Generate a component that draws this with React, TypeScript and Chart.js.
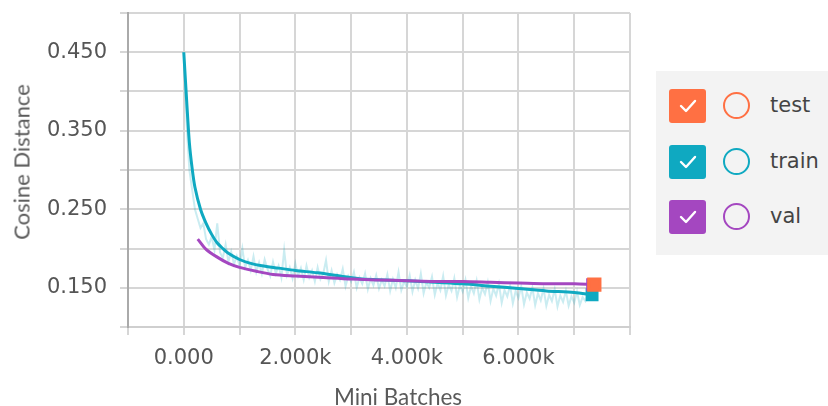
import { useEffect, useRef } from "react";
import { Chart, registerables } from "chart.js";

Chart.register(...registerables);

// ---- data ----
const trainRaw = [
  0.45, 0.36, 0.3, 0.275, 0.25, 0.238, 0.226, 0.232, 0.212, 0.205, 0.215, 0.198, 0.232, 0.195, 0.188, 0.205,
  0.183, 0.196, 0.18, 0.19, 0.178, 0.2, 0.176, 0.185, 0.172, 0.19, 0.17, 0.182, 0.168, 0.186, 0.174, 0.165,
  0.183, 0.168, 0.178, 0.163, 0.198, 0.166, 0.176, 0.162, 0.181, 0.165, 0.175, 0.16, 0.178, 0.163, 0.172, 0.158,
  0.176, 0.161, 0.168, 0.185, 0.158, 0.172, 0.156, 0.167, 0.16, 0.174, 0.152, 0.165, 0.158, 0.17, 0.15, 0.163,
  0.155, 0.168, 0.148, 0.162, 0.153, 0.166, 0.149, 0.16, 0.152, 0.167, 0.146, 0.161, 0.15, 0.17, 0.147, 0.158,
  0.151, 0.166, 0.145, 0.16, 0.149, 0.168, 0.143, 0.157, 0.15, 0.164, 0.141, 0.156, 0.147, 0.165, 0.14, 0.154,
  0.146, 0.162, 0.138, 0.153, 0.145, 0.16, 0.137, 0.152, 0.143, 0.159, 0.135, 0.15, 0.142, 0.157, 0.133, 0.149,
  0.14, 0.155, 0.131, 0.147, 0.139, 0.153, 0.13, 0.146, 0.137, 0.152, 0.129, 0.144, 0.136, 0.15, 0.128, 0.143,
  0.134, 0.149, 0.127, 0.141, 0.133, 0.148, 0.126, 0.14, 0.132, 0.146, 0.127, 0.139, 0.131, 0.145, 0.128, 0.138,
  0.133, 0.142, 0.136,
];
const trainRawInterval = 50;
const trainRawSteps = trainRaw.map((_, i) => i * trainRawInterval);

const trainSmoothSteps = [
  0, 50, 100, 150, 200, 300, 400, 500, 600, 700, 800, 1000, 1200, 1400, 1700, 2000, 2400, 2800, 3200, 3600,
  4000, 4500, 5000, 5500, 6000, 6500, 7000, 7320,
];
const trainSmooth = [
  0.45, 0.39, 0.335, 0.302, 0.278, 0.25, 0.232, 0.218, 0.207, 0.2, 0.194, 0.186, 0.181, 0.178, 0.175, 0.172,
  0.169, 0.165, 0.161, 0.16, 0.159, 0.157, 0.155, 0.152, 0.149, 0.146, 0.144, 0.141,
];
const valSteps = [
  250, 400, 600, 800, 1000, 1300, 1600, 2000, 2500, 3000, 3500, 4000, 4500, 5000, 5500, 6000, 6500, 7000, 7330,
];
const valValues = [
  0.212, 0.199, 0.189, 0.181, 0.176, 0.171, 0.167, 0.165, 0.163, 0.161, 0.16, 0.159, 0.158, 0.158, 0.157, 0.156,
  0.155, 0.155, 0.154,
];
const testSteps = [7360];
const testValues = [0.154];

const yLabelledTicks = [0.15, 0.25, 0.35, 0.45];
const xLabelledTicks = [0, 2000, 4000, 6000];
const xTickLabels = ["0.000", "2.000k", "4.000k", "6.000k"];

const seriesNames = ["test", "train", "val"];
const seriesColors = ["#FF7043", "#0FA9C1", "#A447C0"];

const pts = (xs: number[], ys: number[]) => xs.map((x, i) => ({ x, y: ys[i] }));
const lastOnly = (n: number, r: number) => (ctx: any) => (ctx.dataIndex === n - 1 ? r : 0);

function Check() {
  return (
    <svg width="20" height="16" viewBox="0 0 20 16">
      <polyline points="3,8 8,13 17,3" fill="none" stroke="#fff" strokeWidth="2.4" strokeLinecap="round" strokeLinejoin="round" />
    </svg>
  );
}

export default function App() {
  const ref = useRef<HTMLCanvasElement | null>(null);

  useEffect(() => {
    if (!ref.current) return;
    const chart = new Chart(ref.current, {
      type: "line",
      data: {
        datasets: [
          {
            label: "test",
            data: pts(testSteps, testValues),
            borderColor: seriesColors[0],
            backgroundColor: seriesColors[0],
            borderWidth: 3,
            pointStyle: "rect",
            pointRadius: 8,
          },
          {
            label: "val",
            data: pts(valSteps, valValues),
            borderColor: seriesColors[2],
            backgroundColor: seriesColors[2],
            borderWidth: 3,
            pointStyle: "rect",
            pointRadius: lastOnly(valSteps.length, 7),
            tension: 0.3,
          },
          {
            label: "train",
            data: pts(trainSmoothSteps, trainSmooth),
            borderColor: seriesColors[1],
            backgroundColor: seriesColors[1],
            borderWidth: 3,
            pointStyle: "rect",
            pointRadius: lastOnly(trainSmoothSteps.length, 7),
            tension: 0.3,
          },
          {
            label: "train-raw",
            data: pts(trainRawSteps, trainRaw),
            borderColor: "rgba(15,169,193,0.22)",
            borderWidth: 2,
            pointRadius: 0,
            tension: 0,
          },
        ],
      },
      options: {
        animation: false,
        responsive: false,
        maintainAspectRatio: false,
        layout: { padding: { left: 0, right: 198, top: 13, bottom: 0 } },
        plugins: { legend: { display: false }, tooltip: { enabled: false } },
        scales: {
          x: {
            type: "linear",
            min: -1000,
            max: 8000,
            afterFit: (s: any) => {
              s.height = 79;
              s.paddingLeft = 0;
              s.paddingRight = 0;
            },
            ticks: {
              stepSize: 1000,
              autoSkip: false,
              maxRotation: 0,
              padding: 11,
              color: "#555",
              font: { family: "DejaVu Sans", size: 21 },
              callback: (v: any) => {
                const i = xLabelledTicks.indexOf(Math.round(Number(v)));
                return i >= 0 ? xTickLabels[i] : "";
              },
            },
            grid: { color: "#d6d6d6", lineWidth: 2, tickLength: 8 },
            border: { display: true, color: "#cfcfcf", width: 2 },
          },
          y: {
            type: "linear",
            min: 0.1,
            max: 0.5,
            afterFit: (s: any) => {
              s.width = 128;
              s.paddingTop = 0;
              s.paddingBottom = 0;
            },
            ticks: {
              stepSize: 0.05,
              autoSkip: false,
              padding: 13,
              color: "#555",
              font: { family: "DejaVu Sans", size: 21 },
              callback: (v: any) => {
                const r = Math.round(Number(v) * 1000) / 1000;
                return yLabelledTicks.some((t) => Math.abs(t - r) < 1e-6) ? r.toFixed(3) : "";
              },
            },
            grid: { color: "#d6d6d6", lineWidth: 2, tickLength: 8 },
            border: { display: true, color: "#aaaaaa", width: 2 },
          },
        },
      },
    });
    return () => chart.destroy();
  }, []);

  return (
    <div style={{ position: "fixed", left: 0, top: 0, width: 828, height: 406, background: "#fff", overflow: "hidden" }}>
      <canvas ref={ref} width={828} height={406} style={{ position: "absolute", left: 0, top: 0, width: 828, height: 406 }} />
      <div
        style={{
          position: "absolute",
          left: 21,
          top: 162,
          transform: "translate(-50%, -50%) rotate(-90deg)",
          whiteSpace: "nowrap",
          fontFamily: "Lato, 'Open Sans', sans-serif",
          fontSize: 22,
          color: "#5a5a5a",
        }}
      >
        Cosine Distance
      </div>
      <div
        style={{
          position: "absolute",
          left: 398,
          top: 396,
          transform: "translate(-50%, -50%)",
          whiteSpace: "nowrap",
          fontFamily: "Lato, 'Open Sans', sans-serif",
          fontSize: 22.5,
          color: "#5a5a5a",
        }}
      >
        Mini Batches
      </div>
      <div style={{ position: "absolute", left: 656, top: 71, width: 172, height: 184, background: "#f3f3f3" }}>
        {seriesNames.map((name, i) => (
          <div key={name} style={{ position: "absolute", left: 0, top: 35 + i * 55.5, width: 172, height: 0 }}>
            <div
              style={{
                position: "absolute",
                left: 13,
                top: -17,
                width: 37,
                height: 34,
                borderRadius: 3,
                background: seriesColors[i],
                display: "flex",
                alignItems: "center",
                justifyContent: "center",
              }}
            >
              <Check />
            </div>
            <div
              style={{
                position: "absolute",
                left: 67,
                top: -14,
                width: 23,
                height: 23,
                borderRadius: "50%",
                border: `2.5px solid ${seriesColors[i]}`,
              }}
            />
            <div
              style={{
                position: "absolute",
                left: 114,
                top: -14,
                lineHeight: "26px",
                fontFamily: "DejaVu Sans, sans-serif",
                fontSize: 21,
                color: "#444",
              }}
            >
              {name}
            </div>
          </div>
        ))}
      </div>
    </div>
  );
}
